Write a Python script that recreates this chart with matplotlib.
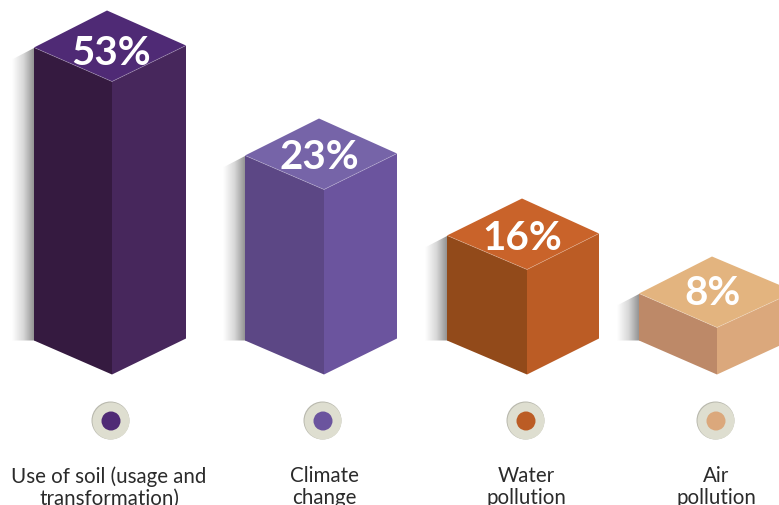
import numpy as np
import matplotlib
matplotlib.use('Agg')
import matplotlib.pyplot as plt
from matplotlib.colors import LinearSegmentedColormap
from matplotlib.patches import Circle, Polygon

categories = ['Use of soil (usage and\ntransformation)', 'Climate\nchange', 'Water\npollution', 'Air\npollution']
values = [53, 23, 16, 8]
top_colors = ['#4f2a75', '#7664a8', '#c9632a', '#e3b47f']
left_colors = ['#351a40', '#5c4785', '#924a1a', '#bd8968']
right_colors = ['#47275c', '#6b549e', '#bb5c25', '#dba87c']
dot_colors = ['#4f2a75', '#6b549e', '#bb5c25', '#dba87c']

# the bars are not to a linear scale, this maps a percentage to its drawn height
scale_values = [0, 8, 16, 23, 53]
scale_heights = [0, 47, 105, 185, 293]

# x of left edge, front edge and right edge for every box
left_x = [34, 245, 447, 639]
front_x = [112, 324, 527, 717]
right_x = [186, 397, 599, 795]
back_shift = -5
label_x = [109, 324, 526, 716]
dot_x = [111, 323, 526, 716]
percent_x = [111, 319, 522, 713]
percent_rise = [29, 33, 32, 35]

base_y = 375.5
side_drop = 34
right_drop = 36
back_rise = 71
shadow_width = 22

fig = plt.figure(figsize=(7.79, 5.06), dpi=100)
ax = fig.add_axes([0, 0, 1, 1])

shadow_cmap = LinearSegmentedColormap.from_list('shadow', ['#ffffff', '#d8d8d8', '#8e8e8e'])


def draw_box(i, value):
    h = np.interp(value, scale_values, scale_heights)
    lx, fx, rx = left_x[i], front_x[i], right_x[i]
    top_y = base_y - h

    # soft shadow thrown to the left of the box
    sx = lx - shadow_width
    img = ax.imshow(np.linspace(0, 1, 64).reshape(1, -1), cmap=shadow_cmap, aspect='auto',
                    extent=(sx, lx + 1, base_y - side_drop, top_y - side_drop), zorder=1)
    clip = Polygon([(sx, top_y - side_drop + 12), (lx + 1, top_y - side_drop),
                    (lx + 1, base_y - side_drop), (sx, base_y - side_drop)],
                   transform=ax.transData, fill=False, edgecolor='none')
    ax.add_patch(clip)
    img.set_clip_path(clip)

    ax.add_patch(Polygon([(lx, base_y - side_drop), (fx, base_y), (fx, top_y), (lx, top_y - side_drop)],
                         facecolor=left_colors[i], edgecolor='none', zorder=2))
    ax.add_patch(Polygon([(fx, base_y), (rx, base_y - right_drop), (rx, top_y - right_drop), (fx, top_y)],
                         facecolor=right_colors[i], edgecolor='none', zorder=2))
    ax.add_patch(Polygon([(lx, top_y - side_drop), (fx + back_shift, top_y - back_rise),
                          (rx, top_y - right_drop), (fx, top_y)],
                         facecolor=top_colors[i], edgecolor='none', zorder=3))
    # thin light seam along the front of the lid
    ax.plot([lx, fx, rx], [top_y - side_drop, top_y, top_y - right_drop],
            color='white', lw=0.6, alpha=0.25, zorder=4)

    ax.text(percent_x[i], top_y - percent_rise[i], '%d%%' % value, color='white', fontsize=29,
            fontweight='bold', family='Lato', ha='center', va='center', zorder=5)


for i, value in enumerate(values):
    draw_box(i, value)

    # round marker under each box
    ax.add_patch(Circle((dot_x[i] - 0.5, 421.5), 19, facecolor='#b9b9ae', edgecolor='none', zorder=2))
    ax.add_patch(Circle((dot_x[i], 422), 18.5, facecolor='#deded0', edgecolor='none', zorder=3))
    ax.add_patch(Circle((dot_x[i], 422), 9.5, facecolor=dot_colors[i], edgecolor='none', zorder=4))

    ax.text(label_x[i], 466, categories[i], color='#2b2b2b', fontsize=14.8, family='Lato',
            ha='center', va='top', linespacing=1.15)

ax.set_xlim(0, 779)
ax.set_ylim(506, 0)
ax.axis('off')

plt.savefig('out.png', dpi=100)
